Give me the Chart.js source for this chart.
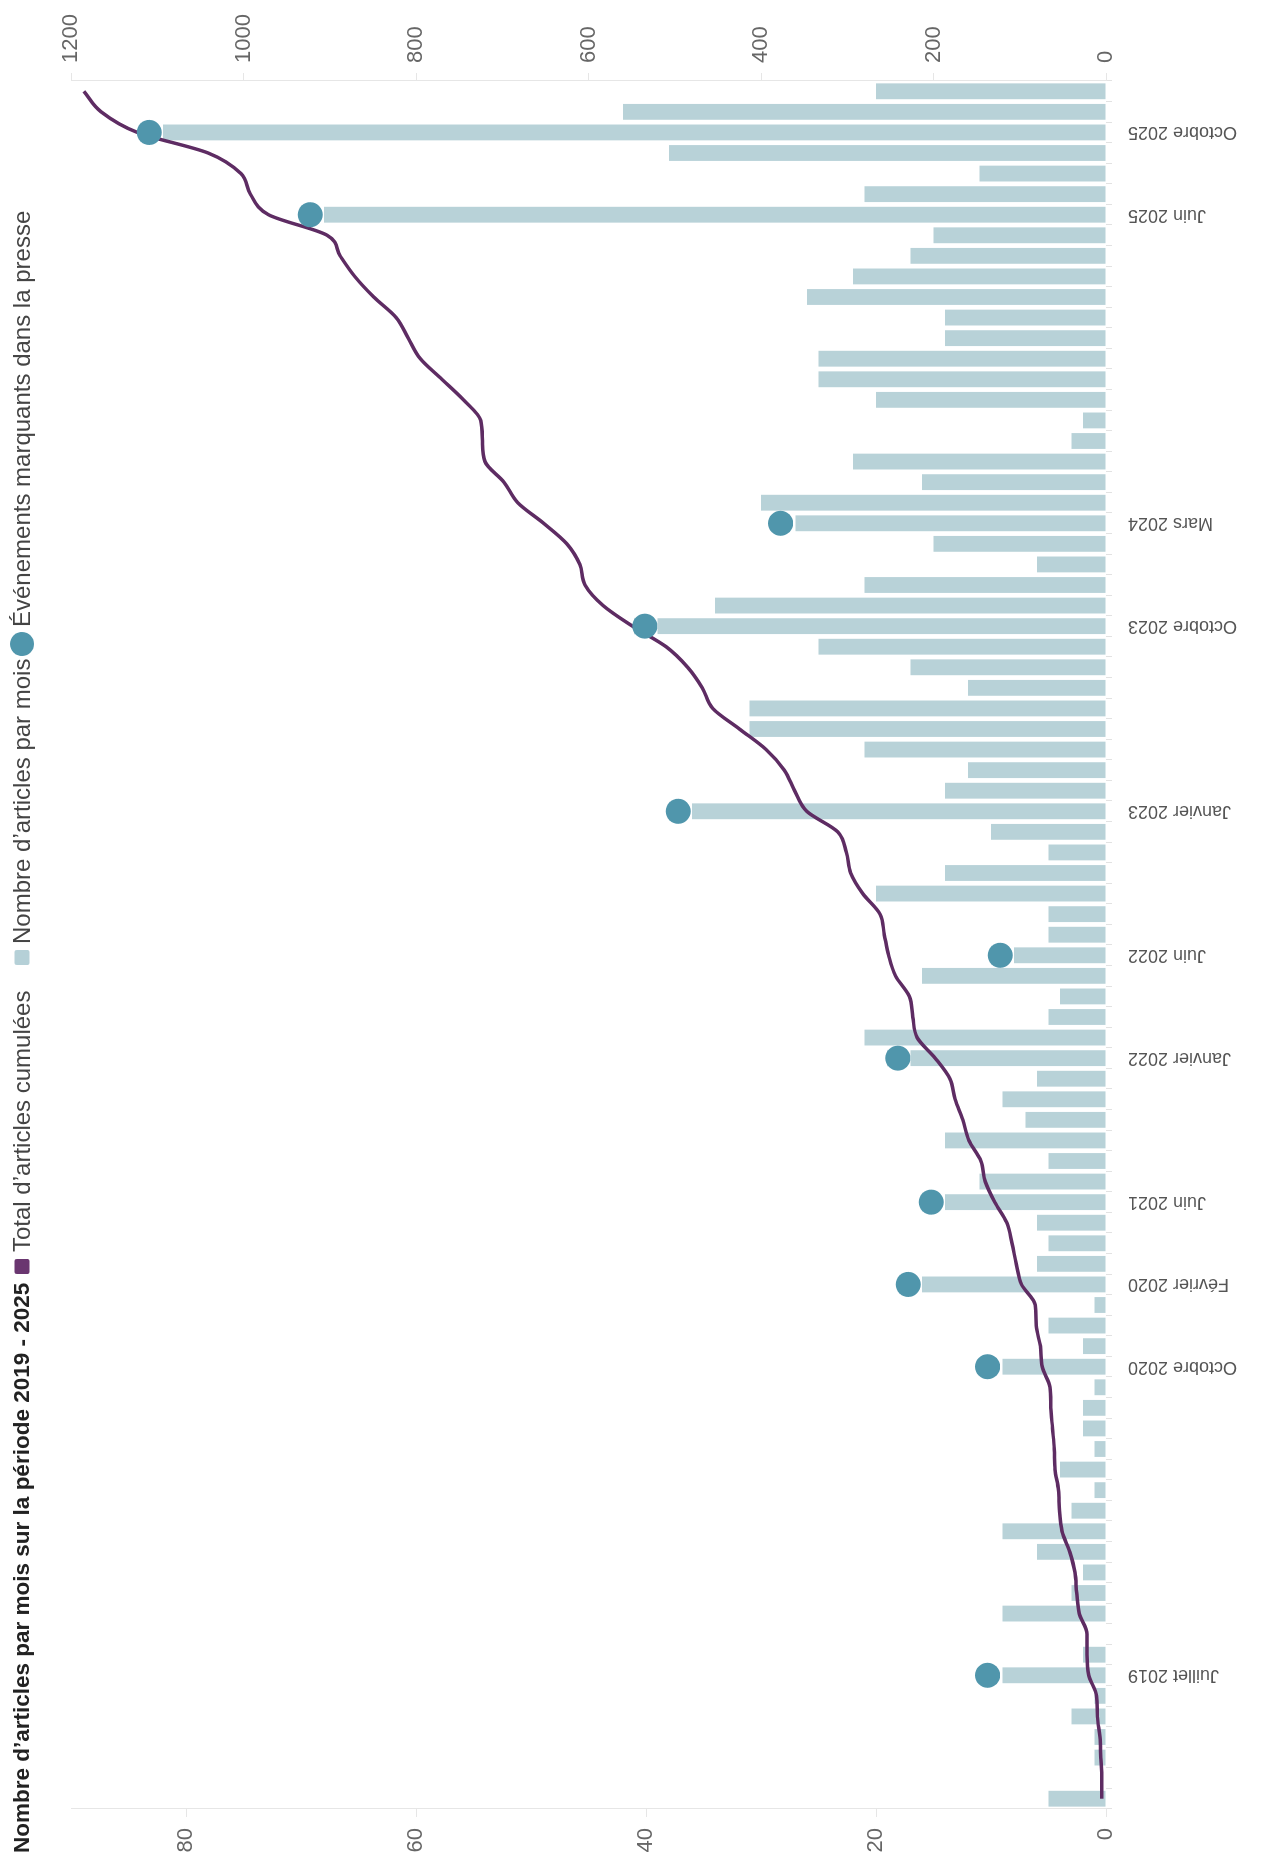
<!DOCTYPE html>
<html lang="fr">
<head>
<meta charset="utf-8">
<title>Nombre d'articles par mois</title>
<script src="https://cdn.jsdelivr.net/npm/chart.js@4.4.1/dist/chart.umd.min.js"></script>
<style>
  html, body { margin: 0; padding: 0; background: #fff; width: 1261px; height: 1856px; overflow: hidden; }
  /* the whole chart is drawn landscape, then turned a quarter turn to the left */
  #frame {
    position: absolute; left: 0; top: 0; width: 1856px; height: 1261px;
    transform-origin: 0 0; transform: translate(0, 1856px) rotate(-90deg);
  }
  #chart { position: absolute; left: 0; top: 0; }
  #legend { position: absolute; left: 0; top: 0; width: 1856px; height: 44px;
    font-family: "Liberation Sans", Arial, sans-serif; color: #444; font-size: 24px; }
  #legend > * { position: absolute; top: 22px; transform: translateY(-50%); white-space: nowrap; }
  #legend .title { left: 3px; font-weight: bold; font-size: 22.5px; color: #222; }
  #legend .sw { width: 15px; height: 15px; border-radius: 2px; }
  #legend .dot { width: 24px; height: 24px; border-radius: 50%; }
</style>
</head>
<body>
<div id="frame">
  <canvas id="chart" width="1856" height="1261"></canvas>
  <div id="legend">
    <span class="title">Nombre d’articles par mois sur la période 2019 - 2025</span>
    <span class="sw" style="left:582px;background:#6a3670"></span>
    <span style="left:604px">Total d’articles cumulées</span>
    <span class="sw" style="left:891px;background:#b5d0d7"></span>
    <span style="left:912px">Nombre d’articles par mois</span>
    <span class="dot" style="left:1200px;background:#5096ac"></span>
    <span style="left:1229px">Événements marquants dans la presse</span>
  </div>
</div>
<script>
const months = [
  "2019-01","2019-02","2019-03","2019-04","2019-05","2019-06","2019-07","2019-08","2019-09","2019-10","2019-11","2019-12",
  "2020-01","2020-02","2020-03","2020-04","2020-05","2020-06","2020-07","2020-08","2020-09","2020-10","2020-11","2020-12",
  "2021-01","2021-02","2021-03","2021-04","2021-05","2021-06","2021-07","2021-08","2021-09","2021-10","2021-11","2021-12",
  "2022-01","2022-02","2022-03","2022-04","2022-05","2022-06","2022-07","2022-08","2022-09","2022-10","2022-11","2022-12",
  "2023-01","2023-02","2023-03","2023-04","2023-05","2023-06","2023-07","2023-08","2023-09","2023-10","2023-11","2023-12",
  "2024-01","2024-02","2024-03","2024-04","2024-05","2024-06","2024-07","2024-08","2024-09","2024-10","2024-11","2024-12",
  "2025-01","2025-02","2025-03","2025-04","2025-05","2025-06","2025-07","2025-08","2025-09","2025-10","2025-11","2025-12"
];

// articles per month
const articles = [
  5, 0, 1, 1, 3, 1, 9, 2, 0, 9, 3, 2,
  6, 9, 3, 1, 4, 1, 2, 2, 1, 9, 2, 5,
  1, 16, 6, 5, 6, 14, 11, 5, 14, 7, 9, 6,
  17, 21, 5, 4, 16, 8, 5, 5, 20, 14, 5, 10,
  36, 14, 12, 21, 31, 31, 12, 17, 25, 39, 34, 21,
  6, 15, 27, 30, 16, 22, 3, 2, 20, 25, 25, 14,
  14, 26, 22, 17, 15, 68, 21, 11, 38, 82, 42, 20
];

// running total (right axis)
const cumulative = [
  5, 5, 6, 7, 10, 11, 20, 22, 22, 31, 34, 36,
  42, 51, 54, 55, 59, 60, 62, 64, 65, 74, 76, 81,
  82, 98, 104, 109, 115, 129, 140, 145, 159, 166, 175, 181,
  198, 219, 224, 228, 244, 252, 257, 262, 282, 296, 301, 311,
  347, 361, 373, 394, 425, 456, 468, 485, 510, 549, 583, 604,
  610, 625, 652, 682, 698, 720, 723, 725, 745, 770, 795, 809,
  823, 849, 871, 888, 903, 971, 992, 1003, 1041, 1123, 1165, 1185
];

// press events, shown as dots and as the only x labels
const eventMonths = ["2019-07","2020-10","2021-02","2021-06","2022-01","2022-06","2023-01","2023-10","2024-03","2025-06","2025-10"];
const eventNames = ["Juillet 2019","Octobre 2020","Février 2020","Juin 2021","Janvier 2022","Juin 2022","Janvier 2023","Octobre 2023","Mars 2024","Juin 2025","Octobre 2025"];
const eventValues = [10.3, 10.3, 17.2, 15.2, 18.1, 9.2, 37.2, 40.1, 28.3, 69.2, 83.2];

const leftTicks = [0, 20, 40, 60, 80];
const rightTicks = [0, 200, 400, 600, 800, 1000, 1200];

Chart.defaults.font.family = "'Liberation Sans', Arial, sans-serif";
Chart.defaults.color = "#666";

const tickGrid = { drawOnChartArea: false, drawTicks: true, tickLength: 8, color: "#e6e6e6" };

new Chart(document.getElementById("chart"), {
  type: "bar",
  data: {
    labels: months,
    datasets: [
      {
        type: "line",
        label: "Événements marquants dans la presse",
        data: eventMonths.map((m, i) => ({ x: m, y: eventValues[i] })),
        yAxisID: "y",
        showLine: false,
        pointRadius: 12.5,
        pointBackgroundColor: "#5096ac",
        pointBorderColor: "#5096ac",
        pointBorderWidth: 0,
        order: 1
      },
      {
        type: "line",
        label: "Total d'articles cumulées",
        data: cumulative,
        yAxisID: "y2",
        borderColor: "#5e2c63",
        borderWidth: 3.5,
        pointRadius: 0,
        cubicInterpolationMode: "monotone",
        order: 2
      },
      {
        label: "Nombre d'articles par mois",
        data: articles,
        yAxisID: "y",
        backgroundColor: "#b8d2d8",
        barPercentage: 0.77,
        categoryPercentage: 1,
        order: 3
      }
    ]
  },
  options: {
    responsive: false,
    animation: false,
    devicePixelRatio: 1,
    layout: { padding: { top: 71, left: 0, right: 0, bottom: 0 } },
    plugins: { legend: { display: false }, tooltip: { enabled: false } },
    scales: {
      x: {
        offset: true,
        border: { display: false },
        grid: { offset: true, drawOnChartArea: false, drawTicks: true, tickLength: 6, color: "#e2e2e2" },
        ticks: {
          autoSkip: false,
          minRotation: 90,
          maxRotation: 90,
          padding: 16,
          color: "#555",
          font: { size: 18 },
          callback: (v, i) => {
            const j = eventMonths.indexOf(months[i]);
            return j >= 0 ? eventNames[j] : "";
          }
        },
        afterFit: s => { s.height = 155; }
      },
      y: {
        position: "left",
        min: 0,
        max: 90,
        border: { display: true, color: "#e6e6e6" },
        grid: tickGrid,
        afterBuildTicks: s => { s.ticks = leftTicks.map(v => ({ value: v })); },
        ticks: { padding: 11, font: { size: 22 }, color: "#666", callback: v => String(v) },
        afterFit: s => { s.width = 47; }
      },
      y2: {
        position: "right",
        min: 0,
        max: 1200,
        border: { display: true, color: "#e6e6e6" },
        grid: tickGrid,
        afterBuildTicks: s => { s.ticks = rightTicks.map(v => ({ value: v })); },
        ticks: { padding: 10, font: { size: 22 }, color: "#666", callback: v => String(v) },
        afterFit: s => { s.width = 81; }
      }
    }
  }
});
</script>
</body>
</html>
